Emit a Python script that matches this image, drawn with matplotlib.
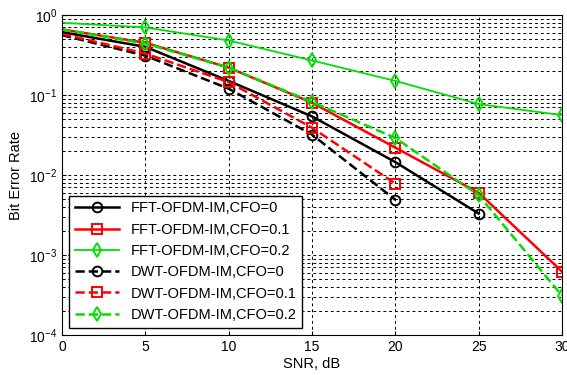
import matplotlib
matplotlib.use("Agg")
import matplotlib.pyplot as plt
from matplotlib.ticker import LogLocator, NullFormatter

plt.rcParams['font.family'] = ['Liberation Sans', 'DejaVu Sans']

snr = [0, 5, 10, 15, 20, 25, 30]

fft_cfo0 = [0.61, 0.40, 0.15, 0.054, 0.0145, 0.0033]
fft_cfo01 = [0.66, 0.45, 0.22, 0.080, 0.022, 0.0060, 0.00062]
fft_cfo02 = [0.80, 0.70, 0.48, 0.27, 0.15, 0.077, 0.056]
dwt_cfo0 = [0.56, 0.31, 0.12, 0.032, 0.0049]
dwt_cfo01 = [0.58, 0.33, 0.145, 0.039, 0.0078]
dwt_cfo02 = [0.66, 0.44, 0.22, 0.082, 0.029, 0.0056, 0.00031]

labels = ['FFT-OFDM-IM,CFO=0', 'FFT-OFDM-IM,CFO=0.1', 'FFT-OFDM-IM,CFO=0.2',
          'DWT-OFDM-IM,CFO=0', 'DWT-OFDM-IM,CFO=0.1', 'DWT-OFDM-IM,CFO=0.2']

fig = plt.figure(figsize=(5.67, 3.75), dpi=100)
ax = fig.add_axes([62/567, 40/375, 500/567, 320/375])

green = '#00e000'
# no markers at snr=0 in the original
mk = dict(markerfacecolor='none', markersize=7, markeredgewidth=1.4, markevery=slice(1, None))
ax.semilogy(snr[:6], fft_cfo0, '-o', color='k', lw=1.8, label=labels[0], **mk)
ax.semilogy(snr, fft_cfo01, '-s', color='r', lw=1.8, label=labels[1], **mk)
ax.semilogy(snr, fft_cfo02, '-d', color=green, lw=1.3, label=labels[2], **mk)
ax.semilogy(snr[:5], dwt_cfo0, '--o', color='k', lw=1.8, label=labels[3], **mk)
ax.semilogy(snr[:5], dwt_cfo01, '--s', color='r', lw=1.8, label=labels[4], **mk)
ax.semilogy(snr, dwt_cfo02, '--d', color=green, lw=1.8, label=labels[5], **mk)

ax.set_xlim(0, 30)
ax.set_ylim(1e-4, 1)
ax.set_xticks(snr)
ax.yaxis.set_minor_locator(LogLocator(base=10, subs=range(2, 10)))
ax.yaxis.set_minor_formatter(NullFormatter())
ax.grid(True, which='major', color='k', linestyle=(0, (3, 3)), lw=0.7)
ax.grid(True, which='minor', axis='y', color='k', linestyle=(0, (3, 3)), lw=0.7)
ax.tick_params(which='both', direction='in', labelsize=10, length=3)
ax.tick_params(which='minor', length=2)
ax.set_xlabel('SNR, dB', fontsize=10.5, labelpad=2)
ax.set_ylabel('Bit Error Rate', fontsize=10.5)

leg = ax.legend(loc='lower left', fontsize=10.5, fancybox=False, framealpha=1,
                edgecolor='k', handlelength=3.0, borderaxespad=0.5, labelspacing=0.5)
leg.get_frame().set_linewidth(1.0)
for h in leg.legend_handles:
    h.set_markevery([1])

fig.savefig('out.png', dpi=100)
